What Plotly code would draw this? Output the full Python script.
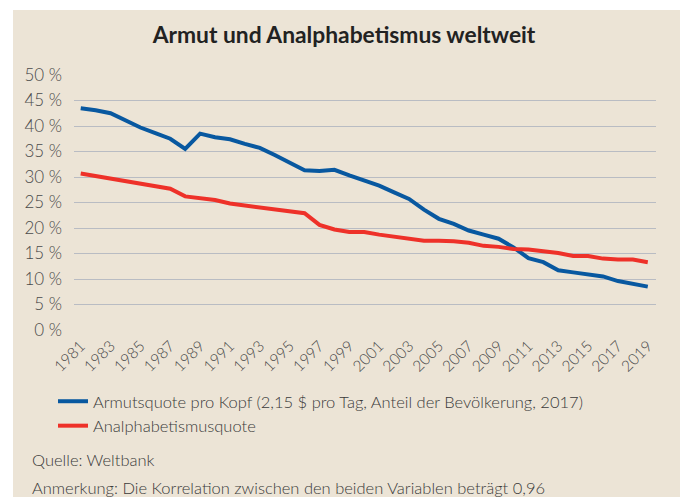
import plotly.graph_objects as go

years = list(range(1981, 2020))
armut = [43.5, 43.1, 42.5, 41.0, 39.7, 38.6, 37.5, 35.5, 38.5, 37.8,
         37.4, 36.5, 35.7, 34.3, 32.9, 31.3, 31.2, 31.4, 30.3, 29.3,
         28.3, 27.0, 25.7, 23.6, 21.8, 20.8, 19.5, 18.7, 17.9, 16.2,
         14.1, 13.3, 11.7, 11.3, 10.9, 10.5, 9.6, 9.1, 8.5]
analph = [30.7, 30.2, 29.8, 29.2, 28.7, 28.3, 27.7, 26.2, 25.8, 25.5,
          24.8, 24.4, 24.0, 23.6, 23.2, 22.9, 20.6, 19.7, 19.2, 19.2,
          18.7, 18.3, 17.9, 17.5, 17.5, 17.4, 17.1, 16.5, 16.3, 15.9,
          15.8, 15.4, 15.1, 14.5, 14.5, 14.0, 13.8, 13.8, 13.3]
y_ticks = [0, 5, 10, 15, 20, 25, 30, 35, 40, 45, 50]
y_labels = ["0 %", "5 %", "10 %", "15 %", "20 %", "25 %", "30 %", "35 %", "40 %", "45 %", "50 %"]
x_ticks = list(range(1981, 2020, 2))

name_armut = "Armutsquote pro Kopf (2,15 $ pro Tag, Anteil der Bevölkerung, 2017)"
name_analph = "Analphabetismusquote"
title_text = "Armut und Analphabetismus weltweit"
source_text = "Quelle: Weltbank"
note_text = "Anmerkung: Die Korrelation zwischen den beiden Variablen beträgt 0,96"

BG = "#ece4d6"
BLUE = "#0858a0"
RED = "#ee3129"
TXT = "#3a3a3a"
FONT = "Lato"

W, H = 680, 497
L, R, T, B = 74, 24, 75, 167

fig = go.Figure()
fig.add_trace(go.Scatter(x=years, y=armut, mode="lines", name=name_armut,
                         line=dict(color=BLUE, width=4), legendgroup="a"))
fig.add_trace(go.Scatter(x=years, y=analph, mode="lines", name=name_analph,
                         line=dict(color=RED, width=4), legendgroup="b"))

pw = W - L - R
ph = H - T - B
def px_x(p):
    return (p - L) / pw
def px_y(p):
    return 1 - (p - T) / ph

fig.update_layout(
    width=W, height=H,
    margin=dict(l=L, r=R, t=T, b=B, autoexpand=False),
    paper_bgcolor=BG, plot_bgcolor=BG,
    font=dict(family=FONT, color=TXT),
    title=dict(text="<b>" + title_text + "</b>", x=344 / W, xanchor="center",
               y=1 - 35 / H, yanchor="middle", xref="container", yref="container",
               font=dict(size=22.8, color="#222222", family=FONT)),
    xaxis=dict(range=[1980.55, 2019.55], tickvals=x_ticks, tickangle=-45,
               showgrid=False, zeroline=False, showline=False, ticks="",
               ticklabelstandoff=3,
               tickfont=dict(size=15.5, color="#4a4a4a", weight=300), automargin=False),
    yaxis=dict(range=[0, 50], tickvals=y_ticks, ticktext=y_labels,
               showgrid=True, gridcolor="#b9bcc3", gridwidth=1,
               zeroline=False, showline=False, ticks="", ticklabelstandoff=11,
               tickfont=dict(size=17, color="#4a4a4a", weight=300), automargin=False),
    showlegend=True,
    legend=dict(x=53 / W, y=1 - 384 / H, xref="container", yref="container",
                xanchor="left", yanchor="top",
                bgcolor="rgba(0,0,0,0)", traceorder="grouped", tracegroupgap=0,
                font=dict(size=16.5, color=TXT, family=FONT, weight=300)),
    shapes=[
        dict(type="rect", xref="paper", yref="paper",
             x0=px_x(-5), x1=px_x(W + 5), y0=px_y(-5), y1=px_y(10),
             fillcolor="white", line=dict(width=0), layer="above"),
        dict(type="rect", xref="paper", yref="paper",
             x0=px_x(-5), x1=px_x(13), y0=px_y(-5), y1=px_y(H + 5),
             fillcolor="white", line=dict(width=0), layer="above"),
    ],
    annotations=[
        dict(text=source_text, xref="paper", yref="paper", x=px_x(30), y=px_y(460),
             xanchor="left", yanchor="middle", showarrow=False,
             font=dict(size=16.5, color=TXT, family=FONT, weight=300)),
        dict(text=note_text, xref="paper", yref="paper", x=px_x(30), y=px_y(488),
             xanchor="left", yanchor="middle", showarrow=False,
             font=dict(size=16.5, color=TXT, family=FONT, weight=300)),
    ],
)

fig.write_html("out.html", config={"displayModeBar": False},
               post_script="document.body.style.margin='0';document.body.style.overflow='hidden';")
